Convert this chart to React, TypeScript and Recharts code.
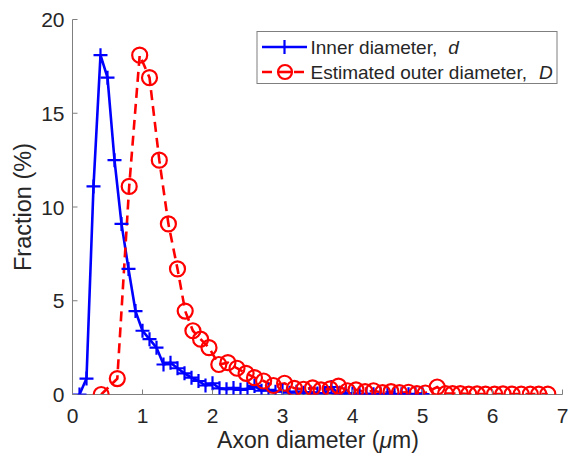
import React from 'react';
import { LineChart, Line, XAxis, YAxis } from 'recharts';

// Inner axon diameter d (µm) – histogram bin positions
const innerDiameter = [
  0.1, 0.2, 0.3, 0.4, 0.5, 0.6, 0.7, 0.8, 0.9, 1.0,
  1.1, 1.2, 1.3, 1.4, 1.5, 1.6, 1.7, 1.8, 1.9, 2.0,
  2.1, 2.2, 2.3, 2.4, 2.5, 2.6, 2.7, 2.8, 2.9, 3.0,
  3.1, 3.2, 3.3, 3.4, 3.5, 3.6, 3.7, 3.8, 3.9, 4.0,
  4.1, 4.2, 4.3, 4.4, 4.5, 4.6, 4.7, 4.8, 4.9, 5.0,
];

// Estimated outer diameter D (µm) for the same bins
const outerDiameter = [
  0.41, 0.64, 0.81, 0.96, 1.10, 1.24, 1.37, 1.50, 1.61, 1.72,
  1.83, 1.95, 2.09, 2.22, 2.35, 2.48, 2.60, 2.73, 2.87, 3.03,
  3.17, 3.30, 3.43, 3.55, 3.68, 3.80, 3.93, 4.05, 4.18, 4.30,
  4.43, 4.55, 4.67, 4.80, 4.92, 5.04, 5.21, 5.33, 5.43, 5.54,
  5.66, 5.78, 5.90, 6.03, 6.15, 6.28, 6.41, 6.54, 6.66, 6.79,
];

// Fraction (%) per bin
const fraction = [
  0, 0.85, 11.1, 18.1, 16.9, 12.5, 9.1, 6.7, 4.45, 3.4,
  2.95, 2.5, 1.6, 1.7, 1.4, 1.13, 0.9, 0.72, 0.48, 0.6,
  0.33, 0.28, 0.35, 0.25, 0.3, 0.45, 0.2, 0.25, 0.15, 0.2,
  0.1, 0.15, 0.1, 0.12, 0.05, 0.08, 0.4, 0.05, 0.05, 0.05,
  0.02, 0.03, 0.02, 0.02, 0.03, 0.02, 0.02, 0.02, 0.02, 0.02,
];

const xTicks = [0, 1, 2, 3, 4, 5, 6, 7];
const yTicks = [0, 5, 10, 15, 20];

const innerData = innerDiameter.map((x, i) => ({ x, y: fraction[i] }));
const outerData = outerDiameter.map((x, i) => ({ x, y: fraction[i] }));

const FONT = '"Liberation Sans", Arial, Helvetica, sans-serif';
const TXT = '#262626';
const EDGE = '#7f7f7f';
const TICK = 5;

const BottomTick = (p: any) => (
  <g>
    <line x1={p.x} y1={p.y} x2={p.x} y2={p.y - TICK} stroke={EDGE} strokeWidth={1} />
    <text x={p.x} y={p.y + 28.5} textAnchor="middle" fontSize={21} fill={TXT} fontFamily={FONT}>
      {p.payload.value}
    </text>
  </g>
);
const TopTick = (p: any) => (
  <line x1={p.x} y1={p.y} x2={p.x} y2={p.y + TICK} stroke={EDGE} strokeWidth={1} />
);
const LeftTick = (p: any) => (
  <g>
    <line x1={p.x} y1={p.y} x2={p.x + TICK} y2={p.y} stroke={EDGE} strokeWidth={1} />
    <text x={p.x - 8} y={p.y + 7.5} textAnchor="end" fontSize={21} fill={TXT} fontFamily={FONT}>
      {p.payload.value}
    </text>
  </g>
);
const RightTick = (p: any) => (
  <line x1={p.x} y1={p.y} x2={p.x - TICK} y2={p.y} stroke={EDGE} strokeWidth={1} />
);

const plusPath = (cx: number, cy: number, s: number) =>
  `M${cx - s},${cy}H${cx + s}M${cx},${cy - s}V${cy + s}`;

const PlusDot = (p: any) => {
  if (p.cx == null || p.cy == null) return <g key={p.index} />;
  return (
    <path key={`p${p.index}`} d={plusPath(p.cx, p.cy, 7)} stroke="#0000ff" strokeWidth={2.2} fill="none" />
  );
};
const CircleDot = (p: any) => {
  if (p.cx == null || p.cy == null) return <g key={p.index} />;
  return (
    <circle key={`c${p.index}`} cx={p.cx} cy={p.cy} r={7.5} stroke="#ff0000" strokeWidth={2.2} fill="none" />
  );
};

export default function App() {
  return (
    <div style={{ position: 'absolute', left: 0, top: 0, width: 571, height: 466, background: '#fff' }}>
      <LineChart
        width={571}
        height={466}
        margin={{ top: 19.5, right: 8.5, left: 0, bottom: 0 }}
      >
        <XAxis
          xAxisId="b"
          dataKey="x"
          type="number"
          domain={[0, 7]}
          ticks={xTicks}
          allowDataOverflow
          height={71.5}
          axisLine={{ stroke: EDGE, strokeWidth: 1 }}
          tickLine={false}
          tickSize={0}
          tickMargin={0}
          tick={BottomTick}
          interval={0}
        />
        <XAxis
          xAxisId="t"
          orientation="top"
          dataKey="x"
          type="number"
          domain={[0, 7]}
          ticks={xTicks}
          allowDataOverflow
          height={0}
          axisLine={{ stroke: EDGE, strokeWidth: 1 }}
          tickLine={false}
          tickSize={0}
          tickMargin={0}
          tick={TopTick}
          interval={0}
        />
        <YAxis
          yAxisId="l"
          type="number"
          domain={[0, 20]}
          ticks={yTicks}
          allowDataOverflow
          width={72.5}
          axisLine={{ stroke: EDGE, strokeWidth: 1 }}
          tickLine={false}
          tickSize={0}
          tickMargin={0}
          tick={LeftTick}
          interval={0}
        />
        <YAxis
          yAxisId="r"
          orientation="right"
          type="number"
          domain={[0, 20]}
          ticks={yTicks}
          allowDataOverflow
          width={0}
          axisLine={{ stroke: EDGE, strokeWidth: 1 }}
          tickLine={false}
          tickSize={0}
          tickMargin={0}
          tick={RightTick}
          interval={0}
        />
        <Line
          xAxisId="b"
          yAxisId="l"
          data={innerData}
          dataKey="y"
          type="linear"
          stroke="#0000ff"
          strokeWidth={2.6}
          dot={PlusDot}
          activeDot={false}
          isAnimationActive={false}
        />
        <Line
          xAxisId="b"
          yAxisId="l"
          data={outerData}
          dataKey="y"
          type="linear"
          stroke="#ff0000"
          strokeWidth={2.6}
          strokeDasharray="10 6"
          dot={CircleDot}
          activeDot={false}
          isAnimationActive={false}
        />
      </LineChart>
      <svg
        width={571}
        height={466}
        style={{ position: 'absolute', left: 0, top: 0, pointerEvents: 'none' }}
      >
        <text
          x={30.5}
          y={207}
          transform="rotate(-90, 30.5, 207)"
          textAnchor="middle"
          fontSize={23.5}
          fill={TXT}
          fontFamily={FONT}
        >
          Fraction (%)
        </text>
        <text x={318} y={448} textAnchor="middle" fontSize={23} fill={TXT} fontFamily={FONT}>
          Axon diameter (<tspan fontStyle="italic">μ</tspan>m)
        </text>
        <rect x={257} y={31.5} width={300} height={52} fill="#fff" stroke={EDGE} strokeWidth={1} />
        <line x1={262} y1={47} x2={307} y2={47} stroke="#0000ff" strokeWidth={2.6} />
        <path d={plusPath(284.5, 47, 7)} stroke="#0000ff" strokeWidth={2.2} fill="none" />
        <text x={310.5} y={54} fontSize={19} fill={TXT} fontFamily={FONT}>
          Inner diameter,<tspan dx={11} fontStyle="italic">d</tspan>
        </text>
        <line x1={262} y1={72} x2={307} y2={72} stroke="#ff0000" strokeWidth={2.6} strokeDasharray="10 6" />
        <circle cx={285} cy={72} r={7} stroke="#ff0000" strokeWidth={2.2} fill="#fff" />
        <line x1={278} y1={72} x2={292} y2={72} stroke="#ff0000" strokeWidth={2.6} />
        <text x={310.5} y={78.5} fontSize={19} fill={TXT} fontFamily={FONT}>
          Estimated outer diameter,<tspan dx={12} fontStyle="italic">D</tspan>
        </text>
      </svg>
    </div>
  );
}
